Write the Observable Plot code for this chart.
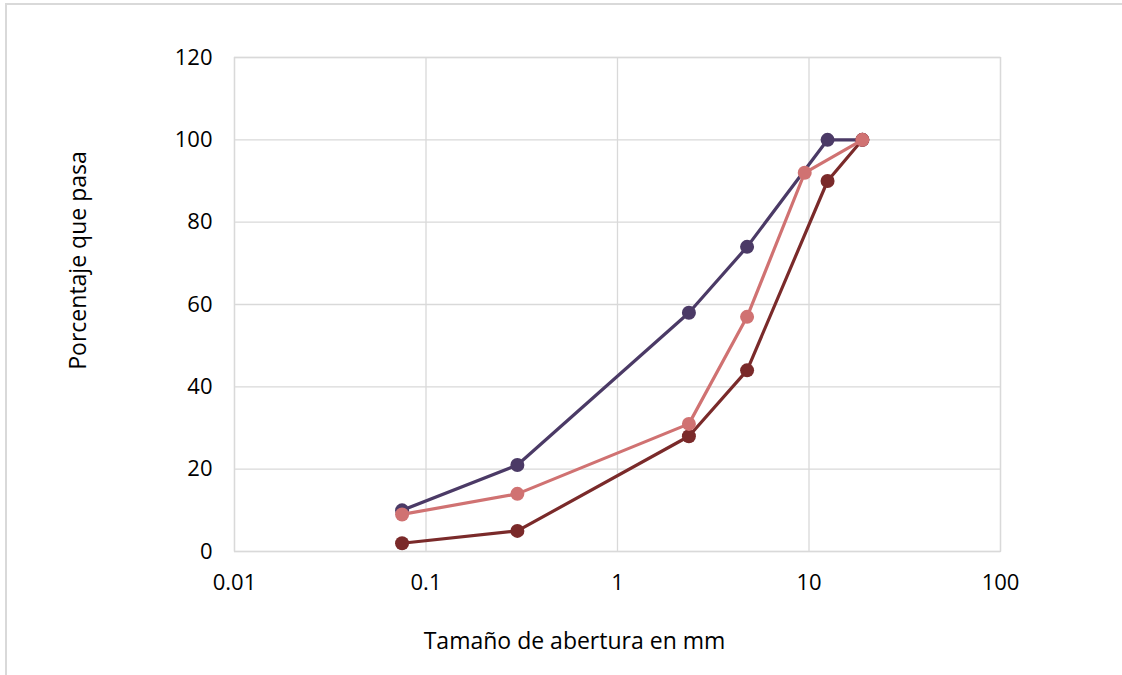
<!DOCTYPE html>
<html>
<head>
<meta charset="utf-8">
<script src="https://cdn.jsdelivr.net/npm/d3@7"></script>
<script src="https://cdn.jsdelivr.net/npm/@observablehq/plot@0.6"></script>
<style>
  html, body { margin: 0; padding: 0; background: #fff; }
  #wrap { position: relative; width: 1122px; height: 675px; overflow: hidden; }
  #border { position: absolute; left: 5px; top: 3px; width: 1200px; height: 800px; border: 2px solid #d9d9d9; box-sizing: border-box; }
  #chart { position: absolute; left: 0; top: 0; }
</style>
</head>
<body>
<div id="wrap"><div id="border"></div><div id="chart"></div></div>
<script>
// Data (sieve opening in mm, percentage passing)
const purpleSizes = [0.075, 0.3, 2.36, 4.75, 12.5, 19];
const purpleValues = [10, 21, 58, 74, 100, 100];
const pinkSizes = [0.075, 0.3, 2.36, 4.75, 9.5, 19];
const pinkValues = [9, 14, 31, 57, 92, 100];
const redSizes = [0.075, 0.3, 2.36, 4.75, 12.5, 19];
const redValues = [2, 5, 28, 44, 90, 100];
const xTicks = [0.01, 0.1, 1, 10, 100];
const yTicks = [0, 20, 40, 60, 80, 100, 120];
const xTitle = "Tamaño de abertura en mm";
const yTitle = "Porcentaje que pasa";

const series = [
  {name: "purple", color: "#4b3a66", sizes: purpleSizes, values: purpleValues},
  {name: "red", color: "#7a2a2a", sizes: redSizes, values: redValues},
  {name: "pink", color: "#d07272", sizes: pinkSizes, values: pinkValues}
];

const marks = [
  Plot.gridX(xTicks, {stroke: "#d9d9d9", strokeOpacity: 1, strokeWidth: 1.3}),
  Plot.gridY(yTicks, {stroke: "#d9d9d9", strokeOpacity: 1, strokeWidth: 1.3}),
  Plot.frame({stroke: "#d9d9d9", strokeWidth: 1.3}),
  Plot.axisX(xTicks, {tickSize: 0, tickPadding: 23, tickFormat: d => String(d), fontSize: 22, label: null}),
  Plot.axisY(yTicks, {tickSize: 0, tickPadding: 22, fontSize: 22, label: null}),
  Plot.text([xTitle], {frameAnchor: "bottom", lineAnchor: "middle", textAnchor: "middle", dx: -43, dy: 90, fontSize: 23, fill: "#000"}),
  Plot.text([yTitle], {frameAnchor: "left", lineAnchor: "middle", textAnchor: "middle", rotate: -90, dx: -156, dy: -44, fontSize: 23, fill: "#000"})
];
for (const s of series) {
  const rows = s.sizes.map((d, i) => ({x: d, y: s.values[i]}));
  marks.push(Plot.line(rows, {x: "x", y: "y", stroke: s.color, strokeWidth: 3.2}));
  marks.push(Plot.dot(rows, {x: "x", y: "y", r: 7, fill: s.color, stroke: "none"}));
}

const chart = Plot.plot({
  width: 1122,
  height: 675,
  marginLeft: 234,
  marginRight: 122,
  marginTop: 57,
  marginBottom: 124,
  style: {fontFamily: "'Open Sans', sans-serif", fontSize: "22px", color: "#000", background: "transparent"},
  x: {type: "log", domain: [0.01, 100]},
  y: {domain: [0, 120]},
  marks
});
document.getElementById("chart").appendChild(chart);
</script>
</body>
</html>
